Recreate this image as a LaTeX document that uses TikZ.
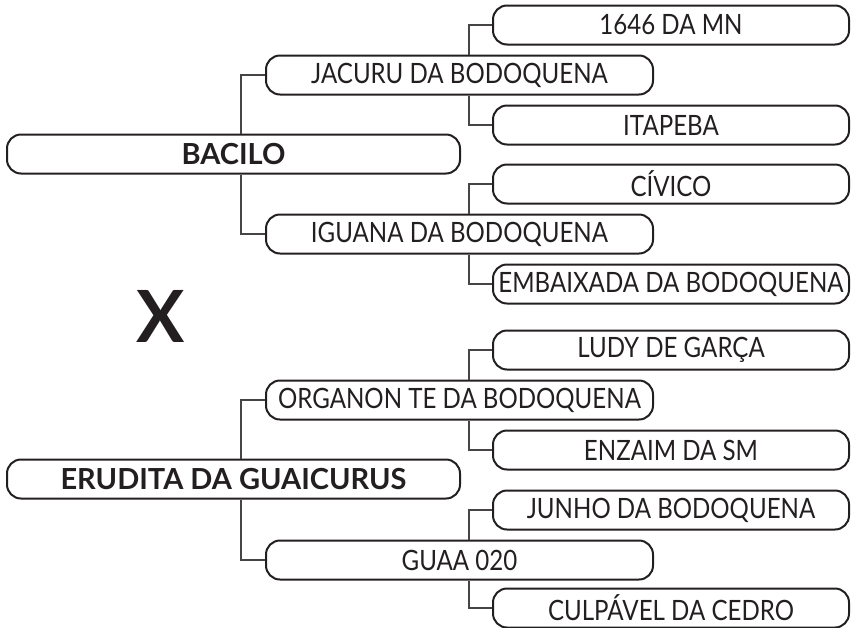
\documentclass[tikz,border=0pt]{standalone}
\usepackage{fontspec}
\setmainfont{Lato}
\newfontfamily\boxfont{Lato}[FakeStretch=0.86]
\usepackage{xcolor}
\usepackage{tikz}
\usetikzlibrary{positioning}
\definecolor{mydark}{RGB}{35,31,32}
\definecolor{mygray}{RGB}{70,68,68}
\tikzset{
  rootbox/.style={rectangle, draw=mydark, text=mydark, line width=2pt,
    rounded corners=14pt, minimum width=453pt, minimum height=39pt,
    inner sep=0pt, font=\fontsize{29}{30}\selectfont\bfseries},
  midbox/.style={rectangle, draw=mydark, text=mydark, line width=2pt,
    rounded corners=14pt, minimum width=387pt, minimum height=39pt,
    inner sep=0pt, font=\boxfont\fontsize{28}{30}\selectfont},
  leafbox/.style={rectangle, draw=mydark, text=mydark, line width=2pt,
    rounded corners=14pt, minimum width=356pt, minimum height=39pt,
    inner sep=0pt, font=\boxfont\fontsize{28}{30}\selectfont},
  line/.style={line width=1.4pt, color=mygray}
}
\begin{document}
\begin{tikzpicture}[x=1pt,y=-1pt]
  \useasboundingbox (0,0) rectangle (851,627);
  % Upper tree
  \node[rootbox] (bacilo) at (233.5,154) {BACILO};
  \node[midbox] (jacuru) at (459.5,75) {JACURU DA BODOQUENA};
  \node[midbox] (iguana) at (459.5,234) {IGUANA DA BODOQUENA};
  \node[leafbox] (mn) at (671,25) {1646 DA MN};
  \node[leafbox] (itapeba) at (671,125) {ITAPEBA};
  \node[leafbox] (civico) at (671,184) {CÍVICO};
  \node[leafbox] (embaixada) at (671,284) {EMBAIXADA DA BODOQUENA};
  % Versus mark
  \node[text=mydark, font=\fontsize{72}{72}\selectfont\bfseries] (versus) at (161,316) {X};
  % Lower tree
  \node[rootbox] (erudita) at (233.5,479) {ERUDITA DA GUAICURUS};
  \node[midbox] (organon) at (459.5,400) {ORGANON TE DA BODOQUENA};
  \node[midbox] (guaa) at (459.5,560) {GUAA 020};
  \node[leafbox] (ludy) at (671,350) {LUDY DE GARÇA};
  \node[leafbox] (enzaim) at (671,450) {ENZAIM DA SM};
  \node[leafbox] (junho) at (671,510) {JUNHO DA BODOQUENA};
  \node[leafbox] (culpavel) at (671,608) {CULPÁVEL DA CEDRO};
  % Connectors
  \draw[line] ([xshift=7.5pt]bacilo.north) |- (jacuru.west);
  \draw[line] ([xshift=7.5pt]bacilo.south) |- (iguana.west);
  \draw[line] ([xshift=9.5pt]jacuru.north) |- (mn.west);
  \draw[line] ([xshift=9.5pt]jacuru.south) |- (itapeba.west);
  \draw[line] ([xshift=9.5pt]iguana.north) |- (civico.west);
  \draw[line] ([xshift=9.5pt]iguana.south) |- (embaixada.west);
  \draw[line] ([xshift=7.5pt]erudita.north) |- (organon.west);
  \draw[line] ([xshift=7.5pt]erudita.south) |- (guaa.west);
  \draw[line] ([xshift=9.5pt]organon.north) |- (ludy.west);
  \draw[line] ([xshift=9.5pt]organon.south) |- (enzaim.west);
  \draw[line] ([xshift=9.5pt]guaa.north) |- (junho.west);
  \draw[line] ([xshift=9.5pt]guaa.south) |- (culpavel.west);
\end{tikzpicture}
\end{document}
